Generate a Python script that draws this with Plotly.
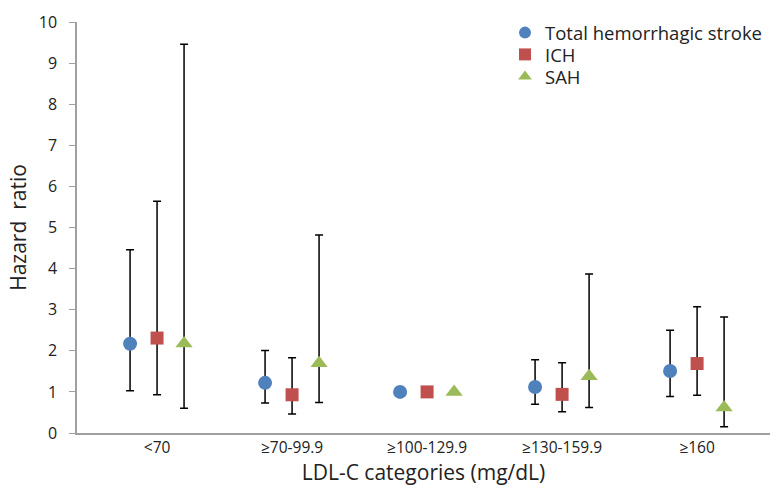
import plotly.graph_objects as go

categories = ["<70", "≥70-99.9", "≥100-129.9", "≥130-159.9", "≥160"]
series_names = ["Total hemorrhagic stroke", "ICH", "SAH"]

total_hr = [2.17, 1.22, 1.0, 1.12, 1.51]
total_lo = [1.03, 0.73, 1.0, 0.70, 0.89]
total_hi = [4.46, 2.01, 1.0, 1.78, 2.50]

ich_hr = [2.31, 0.93, 1.0, 0.94, 1.69]
ich_lo = [0.93, 0.46, 1.0, 0.52, 0.92]
ich_hi = [5.64, 1.83, 1.0, 1.71, 3.07]

sah_hr = [2.18, 1.70, 1.0, 1.38, 0.62]
sah_lo = [0.60, 0.74, 1.0, 0.62, 0.15]
sah_hi = [9.46, 4.82, 1.0, 3.87, 2.82]

colors = ["#4F81BD", "#C0504D", "#9BBB59"]
symbols = ["circle", "square", "triangle-up"]
sizes = [14, 13, 15]
offsets = [-0.2, 0.0, 0.2]
legend_ids = ["legend", "legend2", "legend3"]
legend_rows_y = [0.973, 0.920, 0.866]

data = [(total_hr, total_lo, total_hi), (ich_hr, ich_lo, ich_hi), (sah_hr, sah_lo, sah_hi)]

fig = go.Figure()
for k, (hr, lo, hi) in enumerate(data):
    xs = [i + offsets[k] for i in range(len(categories))]
    fig.add_trace(go.Scatter(
        x=xs, y=hr, mode="markers", name=series_names[k], legend=legend_ids[k],
        marker=dict(symbol=symbols[k], size=sizes[k], color=colors[k], line=dict(width=0)),
        error_y=dict(type="data", symmetric=False,
                     array=[h - v for v, h in zip(hr, hi)],
                     arrayminus=[v - l for v, l in zip(hr, lo)],
                     color="black", thickness=1.5, width=4,
                     visible=True),
    ))

font_family = "Open Sans, Noto Sans, DejaVu Sans, sans-serif"
legend_common = dict(x=0.6176, xanchor="left", yanchor="middle",
                     font=dict(size=18.5, color="#222222"),
                     bgcolor="rgba(0,0,0,0)", itemsizing="constant")

fig.update_layout(
    width=775, height=486,
    margin=dict(l=77, r=5, t=22, b=53),
    paper_bgcolor="white", plot_bgcolor="white",
    font=dict(family=font_family, color="#222222"),
    showlegend=True,
    legend=dict(y=legend_rows_y[0], **legend_common),
    legend2=dict(y=legend_rows_y[1], **legend_common),
    legend3=dict(y=legend_rows_y[2], **legend_common),
    xaxis=dict(
        range=[-0.593, 4.54], automargin=False,
        tickmode="array", tickvals=list(range(len(categories))), ticktext=categories,
        showgrid=False, zeroline=False, showline=True, linecolor="#a0a0a0", linewidth=1.5,
        ticks="", tickfont=dict(size=15.5, color="#222222"),
        title=dict(text="LDL-C categories (mg/dL)", font=dict(size=21, color="#222222"), standoff=6),
    ),
    yaxis=dict(
        range=[0, 10], tickmode="linear", tick0=0, dtick=1, automargin=False,
        showgrid=False, zeroline=False, showline=True, linecolor="#a0a0a0", linewidth=1.5,
        ticks="outside", ticklen=6, tickcolor="#a0a0a0", tickwidth=1,
        ticklabelstandoff=9,
        tickfont=dict(size=16, color="#222222"),
        title=dict(text="Hazard  ratio", font=dict(size=21, color="#222222"), standoff=6),
    ),
)

fig.write_html("out.html", config={"displayModeBar": False},
               post_script="document.body.style.margin='0';")
